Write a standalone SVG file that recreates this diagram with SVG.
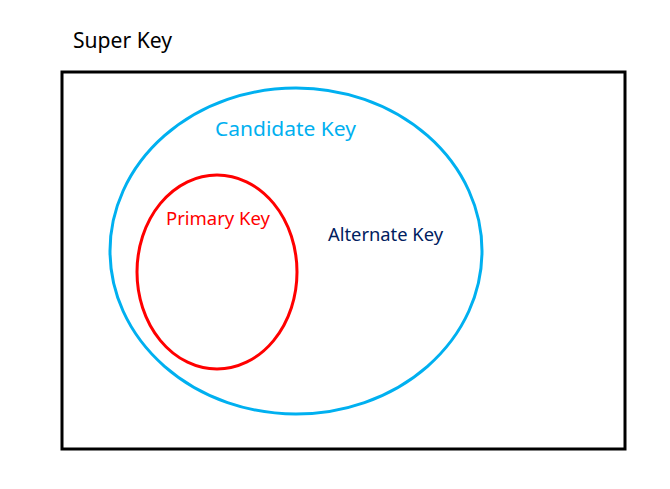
<svg xmlns="http://www.w3.org/2000/svg" width="670" height="489" viewBox="0 0 670 489">
<style>
text{font-family:"Noto Sans","Liberation Sans",sans-serif;}
.sh{fill:none;stroke-width:3;}
</style>
<rect width="670" height="489" fill="#fff"/>
<g id="super-key">
<rect class="sh" x="62" y="72" width="563" height="377" stroke="#000"/>
<text x="73" y="48" font-size="21" fill="#000" textLength="99" lengthAdjust="spacingAndGlyphs">Super Key</text>
</g>
<g id="candidate-key">
<ellipse class="sh" cx="296" cy="251" rx="186" ry="163" stroke="#00B0F0"/>
<text x="215" y="136" font-size="20" fill="#00B0F0" textLength="141" lengthAdjust="spacingAndGlyphs">Candidate Key</text>
</g>
<g id="primary-key">
<ellipse class="sh" cx="217" cy="272" rx="80" ry="97" stroke="#FF0000"/>
<text x="166" y="225" font-size="18" fill="#FF0000" textLength="104" lengthAdjust="spacingAndGlyphs">Primary Key</text>
</g>
<g id="alternate-key">
<text x="328" y="241" font-size="18" fill="#002060" textLength="115" lengthAdjust="spacingAndGlyphs">Alternate Key</text>
</g>
<g id="connectors"/>
</svg>
